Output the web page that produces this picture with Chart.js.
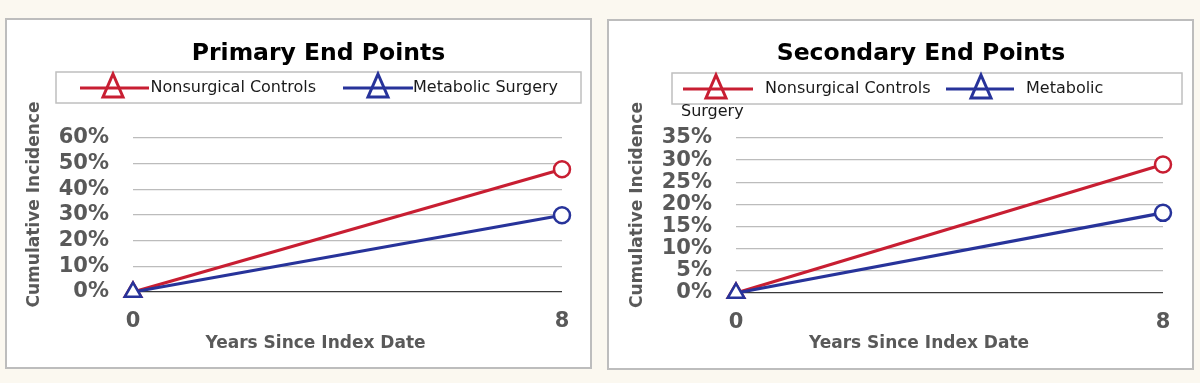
<!DOCTYPE html>
<html>
<head>
<meta charset="utf-8">
<script src="https://cdn.jsdelivr.net/npm/chart.js@4"></script>
<style>
  html, body { margin: 0; padding: 0; background: #fbf8f0; width: 1200px; height: 383px; overflow: hidden; }
  .panel { position: absolute; box-sizing: border-box; width: 587px; height: 351px; background: #ffffff; border: 2px solid #bdbdbd; }
  .panel canvas { position: absolute; left: 0; top: 0; }
</style>
</head>
<body>
<div class="panel" style="left:5px; top:18px;"><canvas id="c1" width="583" height="347"></canvas></div>
<div class="panel" style="left:607px; top:19px;"><canvas id="c2" width="583" height="347"></canvas></div>
<script>
// ---- data ----
const years = ['0', '8'];
const seriesNames = ['Nonsurgical Controls', 'Metabolic Surgery'];
const primaryNonsurgical = [0, 47.8];
const primaryMetabolic = [0, 29.9];
const secondaryNonsurgical = [0, 29.0];
const secondaryMetabolic = [0, 18.1];
const primaryTicks = [0, 10, 20, 30, 40, 50, 60];
const secondaryTicks = [0, 5, 10, 15, 20, 25, 30, 35];
const primaryTitle = 'Primary End Points';
const secondaryTitle = 'Secondary End Points';
const yTitle = 'Cumulative Incidence';
const xTitle = 'Years Since Index Date';

// ---- styles ----
const RED = '#c81e32';
const BLUE = '#27339a';
const GREY_TXT = '#595959';
const FONT = 'DejaVu Sans';

Chart.defaults.font.family = FONT;

function makeDecor(cfg) {
  return {
    id: 'decor',
    afterDraw(chart) {
      const ctx = chart.ctx;
      ctx.save();
      // title
      ctx.fillStyle = '#000';
      ctx.font = 'bold 23.5px "' + FONT + '"';
      ctx.textAlign = 'center';
      ctx.textBaseline = 'middle';
      ctx.fillText(cfg.title, cfg.titleX, cfg.titleY);
      // legend box
      ctx.strokeStyle = '#bfbfbf';
      ctx.lineWidth = 1.5;
      ctx.strokeRect(cfg.box[0], cfg.box[1], cfg.box[2] - cfg.box[0], cfg.box[3] - cfg.box[1]);
      // legend items
      cfg.items.forEach(it => {
        ctx.strokeStyle = it.color;
        ctx.lineWidth = 3;
        ctx.beginPath();
        ctx.moveTo(it.tri, cfg.ly - 14);
        ctx.lineTo(it.tri + 10, cfg.ly + 9);
        ctx.lineTo(it.tri - 10, cfg.ly + 9);
        ctx.closePath();
        ctx.fillStyle = '#fff';
        ctx.fill();
        ctx.stroke();
        ctx.lineWidth = 3;
        ctx.beginPath();
        ctx.moveTo(it.l0, cfg.ly);
        ctx.lineTo(it.l1, cfg.ly);
        ctx.stroke();
        ctx.fillStyle = '#1a1a1a';
        ctx.font = '16px "' + FONT + '"';
        ctx.textAlign = 'left';
        ctx.textBaseline = 'middle';
        ctx.fillText(it.text, it.tx, cfg.ly);
      });
      if (cfg.extra) {
        ctx.fillStyle = '#1a1a1a';
        ctx.font = '16px "' + FONT + '"';
        ctx.textAlign = 'left';
        ctx.textBaseline = 'middle';
        ctx.fillText(cfg.extra.text, cfg.extra.x, cfg.extra.y);
      }
      // axis titles
      ctx.fillStyle = GREY_TXT;
      ctx.font = 'bold 17px "' + FONT + '"';
      ctx.textAlign = 'center';
      ctx.textBaseline = 'middle';
      ctx.fillText(xTitle, cfg.xtX, cfg.xtY);
      ctx.translate(cfg.ytX, cfg.ytY);
      ctx.rotate(-Math.PI / 2);
      ctx.fillText(yTitle, 0, 0);
      ctx.restore();
    }
  };
}

function makeChart(id, red, blue, ticks, max, lay, decor) {
  return new Chart(document.getElementById(id), {
    type: 'line',
    data: {
      labels: years,
      datasets: [
        {
          label: seriesNames[0], data: red, borderColor: RED, borderWidth: 3.2,
          pointStyle: ['triangle', 'circle'], pointRadius: [9.5, 8], pointBorderWidth: 2.5,
          pointBackgroundColor: '#fff', pointBorderColor: RED, clip: false, order: 1
        },
        {
          label: seriesNames[1], data: blue, borderColor: BLUE, borderWidth: 3.2,
          pointStyle: ['triangle', 'circle'], pointRadius: [9.5, 8], pointBorderWidth: 2.5,
          pointBackgroundColor: '#fff', pointBorderColor: BLUE, clip: false, order: 0
        }
      ]
    },
    options: {
      responsive: false,
      animation: false,
      devicePixelRatio: 1,
      layout: { padding: { top: lay.top, right: lay.right, left: 0, bottom: 0 } },
      plugins: { legend: { display: false }, title: { display: false }, tooltip: { enabled: false } },
      scales: {
        x: {
          type: 'category',
          offset: false,
          grid: { display: false },
          border: { display: false },
          ticks: { color: GREY_TXT, font: { size: 21, weight: 'bold' }, padding: 9, maxRotation: 0 },
          afterFit(s) { s.height = lay.xh; }
        },
        y: {
          min: 0, max: max,
          afterBuildTicks(s) { s.ticks = ticks.map(v => ({ value: v })); },
          grid: {
            drawTicks: false,
            lineWidth: 1.3,
            color: c => (c.tick && c.tick.value === 0) ? '#3a3a3a' : '#bcbcbc'
          },
          border: { display: false },
          ticks: {
            autoSkip: false, color: GREY_TXT, padding: 24,
            font: { size: 21, weight: 'bold', lineHeight: 1 },
            callback: v => v + '%'
          },
          afterFit(s) { s.width = lay.yw; }
        }
      }
    },
    plugins: [makeDecor(decor)]
  });
}

makeChart('c1', primaryNonsurgical, primaryMetabolic, primaryTicks, 60,
  { top: 118, right: 28, yw: 126, xh: 75 },
  {
    title: primaryTitle, titleX: 311.5, titleY: 34,
    box: [49, 52, 574, 83], ly: 68,
    items: [
      { color: RED, l0: 73, l1: 142, tri: 106, tx: 143.5, text: 'Nonsurgical Controls' },
      { color: BLUE, l0: 336, l1: 406, tri: 371, tx: 406, text: 'Metabolic Surgery' }
    ],
    xtX: 308.5, xtY: 323.5, ytX: 28, ytY: 184.5
  });

makeChart('c2', secondaryNonsurgical, secondaryMetabolic, secondaryTicks, 35,
  { top: 117, right: 29, yw: 127, xh: 75 },
  {
    title: secondaryTitle, titleX: 312, titleY: 33,
    box: [63, 52, 573, 83], ly: 68,
    items: [
      { color: RED, l0: 74, l1: 144, tri: 107, tx: 156, text: 'Nonsurgical Controls' },
      { color: BLUE, l0: 337, l1: 405, tri: 372, tx: 417, text: 'Metabolic' }
    ],
    extra: { text: 'Surgery', x: 72, y: 91 },
    xtX: 310, xtY: 323, ytX: 28.5, ytY: 184
  });
</script>
</body>
</html>
